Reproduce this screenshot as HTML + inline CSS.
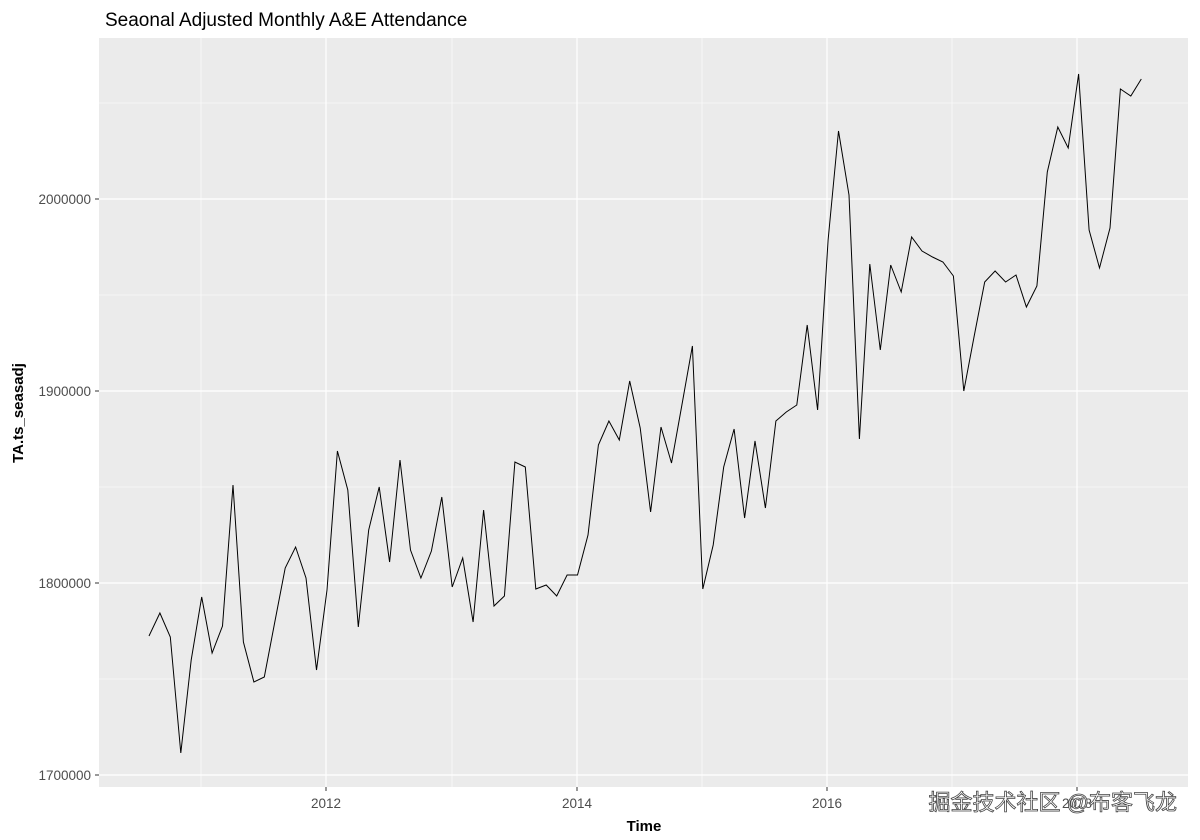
<!DOCTYPE html>
<html><head><style>body{margin:0;background:#fff}svg{display:block}</style></head><body>
<svg width="1200" height="840" xmlns="http://www.w3.org/2000/svg" font-family="Liberation Sans, sans-serif">
<rect x="99" y="38" width="1089" height="749" fill="#ebebeb"/>
<g stroke="#fff" stroke-width="0.6">
<line x1="99" x2="1188" y1="679" y2="679"/><line x1="99" x2="1188" y1="487" y2="487"/><line x1="99" x2="1188" y1="295" y2="295"/><line x1="99" x2="1188" y1="103" y2="103"/>
<line y1="38" y2="787" x1="201" x2="201"/><line y1="38" y2="787" x1="452" x2="452"/><line y1="38" y2="787" x1="702" x2="702"/><line y1="38" y2="787" x1="952" x2="952"/>
</g>
<g stroke="#fff" stroke-width="1.2">
<line x1="99" x2="1188" y1="775" y2="775"/><line x1="99" x2="1188" y1="583" y2="583"/><line x1="99" x2="1188" y1="391" y2="391"/><line x1="99" x2="1188" y1="199" y2="199"/>
<line y1="38" y2="787" x1="326" x2="326"/><line y1="38" y2="787" x1="577" x2="577"/><line y1="38" y2="787" x1="827" x2="827"/><line y1="38" y2="787" x1="1077" x2="1077"/>
</g>
<g stroke="#333" stroke-width="1">
<line x1="95" x2="99" y1="775" y2="775"/><line x1="95" x2="99" y1="583" y2="583"/><line x1="95" x2="99" y1="391" y2="391"/><line x1="95" x2="99" y1="199" y2="199"/>
<line y1="787" y2="791" x1="326" x2="326"/><line y1="787" y2="791" x1="577" x2="577"/><line y1="787" y2="791" x1="827" x2="827"/><line y1="787" y2="791" x1="1077" x2="1077"/>
</g>
<g font-size="13.5" fill="#4d4d4d" text-anchor="end">
<text x="91" y="780">1700000</text><text x="91" y="588">1800000</text><text x="91" y="396">1900000</text><text x="91" y="204">2000000</text>
</g>
<g font-size="13.5" fill="#4d4d4d" text-anchor="middle">
<text x="326" y="808">2012</text><text x="577" y="808">2014</text><text x="827" y="808">2016</text><text x="1077" y="808">2018</text>
</g>
<text x="644" y="831" font-size="15" font-weight="bold" text-anchor="middle">Time</text>
<text transform="translate(23,413) rotate(-90)" font-size="15" font-weight="bold" text-anchor="middle">TA.ts_seasadj</text>
<text x="105" y="26" font-size="19" fill="#000">Seaonal Adjusted Monthly A&amp;E Attendance</text>
<polyline fill="none" stroke="#000" stroke-width="1" points="149,636 159.9,613 170.3,637 180.8,753 191.2,660 201.7,597 212.1,653 222.5,626 233,485 243.4,642 253.9,682 264.3,677 274.8,622 285.2,568 295.6,547 306,578 316.5,670 327,590 337.4,451 347.8,490 358.3,627 368.7,530 379.2,487 389.6,562 400,460 410.5,550 420.9,578 431.4,551 441.8,497 452.2,587 462.7,558 473.1,622 483.6,510 494,606 504.4,596 514.9,462 525.3,467 535.8,589 546.2,585 556.7,596 567.1,575 577.5,575 588,535 598.4,445 608.9,421 619.3,440 629.7,381 640.2,428 650.6,512 661,427 671.5,463 681.9,405 692.4,346 702.8,589 713.2,545 723.7,467 734.1,429 744.6,518 755,441 765.4,508 775.9,421 786.3,412 796.8,405 807.2,325 817.6,410 828.1,240 838.5,131 849,195 859.4,439 869.8,264 880.3,350 890.7,265 901.2,292 911.6,237 922,251 932.5,257 942.9,262 953.4,276 963.8,391 974.2,336 984.7,282 995.1,271 1005.6,282 1016,275 1026.4,307 1036.9,286 1047.3,172 1057.8,127 1068.2,148 1078.6,74 1089.1,230 1099.5,268 1110,228 1120.4,89 1130.8,96 1141.3,79"/>
<text x="1177" y="810" font-size="22" fill="#fff" stroke="#444" stroke-width="0.8" text-anchor="end" font-family="Liberation Sans, Noto Sans CJK SC, sans-serif">掘金技术社区 @布客飞龙</text>
</svg>
</body></html>
